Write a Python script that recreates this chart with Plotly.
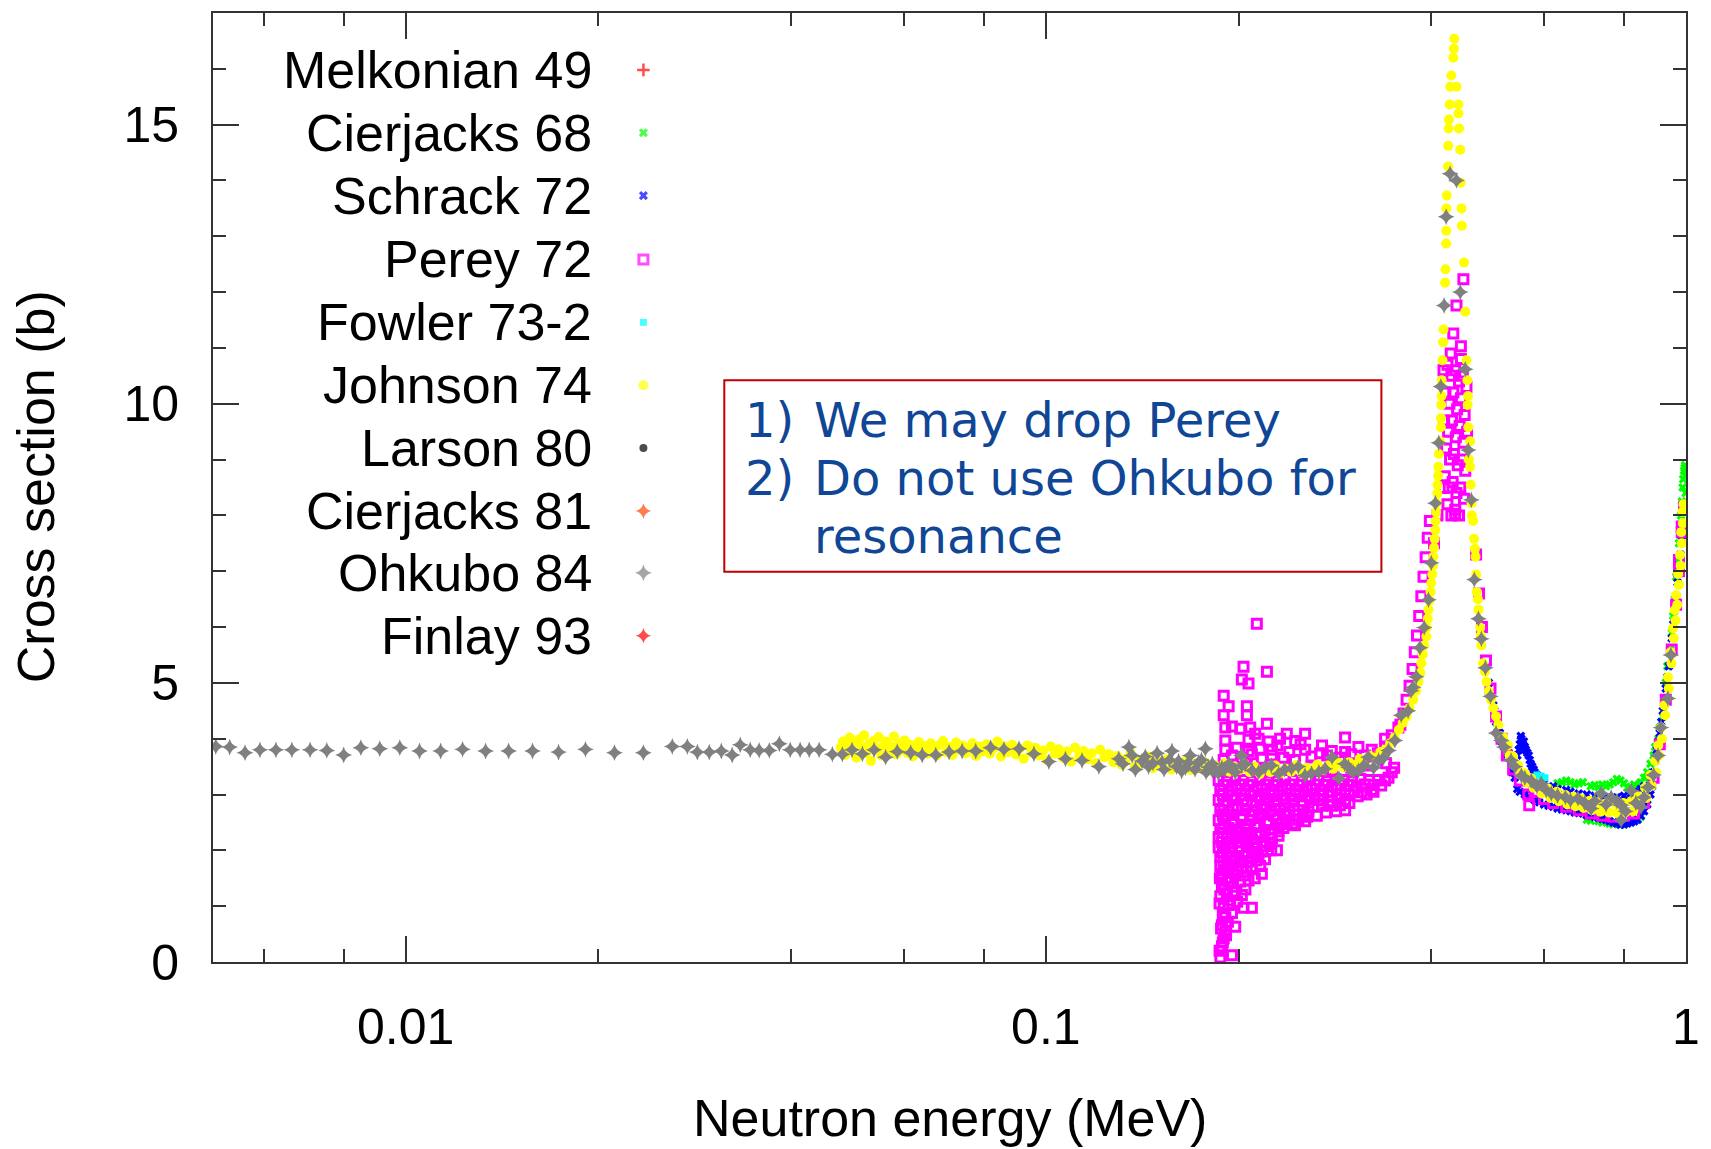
import plotly.graph_objects as go

# ---------------------------------------------------------------------------
# Total cross section data (energy in MeV, cross section in barns)
# ---------------------------------------------------------------------------
melkonian_49 = []
larson_80 = []
cierjacks_81 = []
finlay_93 = []

fowler_73_2 = [(0.585, 3.35), (0.594, 3.33), (0.602, 3.30)]

cierjacks_68 = [
    (0.63, 3.20), (0.65, 3.25), (0.67, 3.18), (0.69, 3.22), (0.71, 3.15), (0.73, 3.13),
    (0.75, 3.15), (0.77, 3.22), (0.79, 3.25), (0.81, 3.12), (0.83, 3.18), (0.85, 3.22),
    (0.87, 3.40), (0.89, 3.70), (0.905, 4.00), (0.92, 4.40), (0.70, 2.55), (0.73, 2.52),
    (0.76, 2.48), (0.79, 2.47), (0.82, 2.50), (0.85, 2.60), (0.93, 5.00), (0.945, 5.60),
    (0.955, 6.20), (0.965, 6.90), (0.975, 7.50), (0.982, 8.00), (0.988, 8.50),
    (0.993, 8.80), (0.997, 8.90), (0.66, 3.22), (0.74, 3.18), (0.80, 3.20), (0.84, 3.15),
    (0.64, 3.22), (0.68, 3.20), (0.72, 3.17), (0.76, 3.18), (0.78, 3.28), (0.82, 3.14),
    (0.86, 3.30), (0.88, 3.55), (0.895, 3.85), (0.91, 4.20), (0.71, 2.53), (0.74, 2.50),
    (0.77, 2.47), (0.80, 2.46), (0.83, 2.52), (0.84, 2.56), (0.935, 5.30), (0.95, 5.90),
    (0.96, 6.50), (0.97, 7.20), (0.978, 7.75), (0.985, 8.25), (0.99, 8.65), (0.995, 8.85),
    (0.999, 8.70), (0.999, 8.40),
]

schrack_72 = [
    (0.500, 4.60), (0.505, 4.30), (0.510, 4.05), (0.515, 3.95), (0.520, 3.85), (0.525, 3.72),
    (0.530, 3.65), (0.545, 3.70), (0.548, 3.80), (0.553, 4.00), (0.556, 3.90), (0.560, 3.85),
    (0.565, 3.75), (0.570, 3.62), (0.575, 3.50), (0.580, 3.40), (0.550, 3.05), (0.570, 2.95),
    (0.600, 2.82), (0.630, 2.75), (0.660, 2.70), (0.690, 2.66), (0.720, 2.60), (0.750, 2.55),
    (0.780, 2.48), (0.800, 2.47), (0.820, 2.50), (0.840, 2.55), (0.860, 2.70), (0.880, 3.00),
    (0.600, 3.20), (0.630, 3.10), (0.660, 3.05), (0.700, 3.00), (0.740, 2.95), (0.780, 2.95),
    (0.820, 3.02), (0.850, 3.10), (0.890, 3.40), (0.900, 3.80), (0.910, 4.10), (0.920, 4.50),
    (0.930, 4.90), (0.940, 5.30), (0.950, 5.80), (0.960, 6.30), (0.970, 6.80), (0.980, 7.30),
    (0.990, 7.80), (0.995, 8.20), (0.535, 3.40), (0.540, 3.30),
    (0.492, 5.00), (0.496, 4.80), (0.502, 4.50), (0.508, 4.20), (0.512, 4.10), (0.518, 3.95),
    (0.522, 3.90), (0.528, 3.75), (0.534, 3.60), (0.540, 3.55), (0.550, 3.90), (0.552, 4.05),
    (0.558, 3.95), (0.562, 3.80), (0.568, 3.70), (0.572, 3.55), (0.578, 3.45), (0.585, 3.35),
    (0.545, 3.10), (0.560, 3.00), (0.580, 2.90), (0.590, 2.86), (0.610, 2.80), (0.620, 2.78),
    (0.640, 2.73), (0.650, 2.72), (0.670, 2.68), (0.680, 2.67), (0.700, 2.63), (0.710, 2.62),
    (0.730, 2.58), (0.740, 2.56), (0.760, 2.52), (0.770, 2.50), (0.790, 2.46), (0.810, 2.48),
    (0.830, 2.52), (0.850, 2.62), (0.870, 2.82), (0.885, 3.15), (0.895, 3.60), (0.905, 3.95),
    (0.915, 4.30), (0.925, 4.70), (0.935, 5.10), (0.945, 5.55), (0.955, 6.05), (0.965, 6.55),
    (0.975, 7.05), (0.985, 7.55), (0.620, 3.15), (0.650, 3.08), (0.680, 3.02), (0.720, 2.98),
    (0.760, 2.93), (0.800, 2.98), (0.830, 3.05), (0.860, 3.15),
]

perey_72 = [
    # low-energy tail of the scattered region
    (0.1873, 0.08), (0.1953, 0.12), (0.1884, 0.28), (0.1896, 0.42), (0.1907, 0.55),
    (0.1884, 0.66), (0.1976, 0.63), (0.1907, 0.80), (0.1953, 0.88), (0.1896, 0.97),
    (0.1930, 1.02), (0.2036, 0.97), (0.2098, 0.97), (0.1873, 1.18), (0.1918, 1.23),
    (0.1976, 1.25), (0.2024, 1.20), (0.1930, 1.44), (0.2012, 1.44), (0.2073, 1.46),
    (0.1884, 1.38), (0.1868, 0.20), (0.1890, 0.35), (0.1912, 0.48), (0.1878, 0.60),
    (0.1925, 0.72), (0.1890, 0.85), (0.1940, 1.10), (0.1868, 1.05), (0.1990, 1.08),
    (0.1900, 1.30), (0.1960, 1.35), (0.2050, 1.30), (0.1870, 1.50), (0.1945, 1.50),
    (0.2040, 1.55), (0.2120, 1.50),
    (0.1884, 1.58), (0.1930, 1.60), (0.1976, 1.56), (0.2175, 1.58), (0.1873, 1.72),
    (0.1918, 1.70), (0.1965, 1.74), (0.2024, 1.68), (0.2098, 1.70), (0.2162, 1.72),
    (0.1873, 1.88), (0.1918, 1.90), (0.1976, 1.86), (0.2036, 1.90), (0.2098, 1.88),
    (0.2149, 1.92), (0.1862, 2.05), (0.1907, 2.08), (0.1953, 2.04), (0.2012, 2.06),
    (0.2073, 2.10), (0.2136, 2.04), (0.2202, 2.08), (0.2296, 2.00), (0.1862, 2.24),
    (0.1918, 2.22), (0.1976, 2.26), (0.2036, 2.24), (0.2098, 2.20), (0.2162, 2.26),
    (0.2255, 2.22), (0.2309, 2.26), (0.1873, 2.38), (0.1930, 2.40), (0.1988, 2.36),
    (0.2061, 2.38), (0.2123, 2.42), (0.2202, 2.36), (0.2309, 2.34),
    (0.1900, 1.64), (0.1990, 1.64), (0.2060, 1.62), (0.1895, 1.80), (0.1950, 1.81),
    (0.2010, 1.79), (0.2070, 1.80), (0.2130, 1.82), (0.2200, 1.84), (0.1890, 1.97),
    (0.1940, 1.96), (0.2000, 1.98), (0.2060, 1.97), (0.2120, 1.95), (0.2180, 1.98),
    (0.2250, 2.00), (0.1885, 2.15), (0.1935, 2.14), (0.1995, 2.16), (0.2055, 2.15),
    (0.2115, 2.13), (0.2180, 2.16), (0.2240, 2.12), (0.1890, 2.31), (0.1950, 2.30),
    (0.2010, 2.32), (0.2090, 2.31), (0.2160, 2.30), (0.2250, 2.30), (0.2350, 2.40),
    (0.2450, 2.45), (0.1895, 2.46), (0.1955, 2.47), (0.2050, 2.45), (0.2140, 2.46),
    (0.2230, 2.48), (0.2330, 2.47), (0.2430, 2.48), (0.2560, 2.60), (0.2650, 2.62),
    (0.2740, 2.68), (0.2840, 2.70),
    (0.1862, 2.54), (0.1907, 2.58), (0.1965, 2.52), (0.2024, 2.56), (0.2086, 2.54),
    (0.2149, 2.58), (0.2215, 2.52), (0.2296, 2.56), (0.2379, 2.52), (0.2481, 2.55),
    (0.2541, 2.52), (0.1873, 2.72), (0.1930, 2.70), (0.1988, 2.74), (0.2049, 2.72),
    (0.2111, 2.70), (0.2175, 2.74), (0.2242, 2.70), (0.2322, 2.74), (0.2400, 2.70),
    (0.2481, 2.72), (0.2572, 2.70), (0.2934, 2.72), (0.1862, 2.90), (0.1918, 2.88),
    (0.1976, 2.92), (0.2036, 2.90), (0.2098, 2.88), (0.2162, 2.92), (0.2228, 2.90),
    (0.2296, 2.88), (0.2365, 2.92), (0.2437, 2.90), (0.2511, 2.88), (0.2587, 2.92),
    (0.2667, 2.90), (0.2765, 2.88), (0.2860, 2.92), (0.2934, 2.90), (0.1873, 3.08),
    (0.1930, 3.06), (0.1988, 3.10), (0.2049, 3.08), (0.2111, 3.06), (0.2175, 3.10),
    (0.2242, 3.08), (0.2309, 3.06), (0.2379, 3.10), (0.2452, 3.08), (0.2526, 3.06),
    (0.2603, 3.10), (0.2682, 3.08), (0.2764, 3.06), (0.2848, 3.10), (0.2934, 3.08),
    (0.3030, 3.06), (0.3110, 3.04), (0.3229, 3.08), (0.1862, 3.26), (0.1918, 3.24),
    (0.1976, 3.28), (0.2036, 3.26), (0.2098, 3.24), (0.2162, 3.28), (0.2228, 3.26),
    (0.2296, 3.24), (0.2365, 3.28), (0.2437, 3.26), (0.2511, 3.24), (0.2587, 3.28),
    (0.2667, 3.26), (0.2750, 3.24), (0.2834, 3.28), (0.2920, 3.26), (0.3010, 3.24),
    (0.3100, 3.28), (0.3200, 3.26), (0.3300, 3.26), (0.3388, 3.25), (0.3470, 3.40),
    (0.1890, 2.63), (0.1950, 2.64), (0.2020, 2.62), (0.2100, 2.63), (0.2190, 2.65),
    (0.2270, 2.62), (0.2360, 2.63), (0.2450, 2.64), (0.2520, 2.64), (0.1895, 2.81),
    (0.1960, 2.80), (0.2060, 2.82), (0.2130, 2.81), (0.2210, 2.79), (0.2280, 2.81),
    (0.2360, 2.82), (0.2440, 2.80), (0.2520, 2.81), (0.2620, 2.79), (0.2700, 2.80),
    (0.2800, 2.80), (0.2880, 2.81), (0.2980, 2.85), (0.1890, 2.99), (0.1955, 2.98),
    (0.2020, 3.00), (0.2080, 2.99), (0.2150, 2.97), (0.2200, 3.01), (0.2270, 2.99),
    (0.2340, 2.98), (0.2410, 3.00), (0.2490, 2.99), (0.2560, 2.97), (0.2630, 3.00),
    (0.2710, 2.99), (0.2800, 2.98), (0.2890, 3.00), (0.2980, 2.99), (0.3070, 2.97),
    (0.3170, 3.00), (0.3250, 3.05), (0.1895, 3.17), (0.1955, 3.16), (0.2015, 3.18),
    (0.2075, 3.17), (0.2140, 3.15), (0.2210, 3.18), (0.2270, 3.17), (0.2340, 3.16),
    (0.2410, 3.18), (0.2490, 3.17), (0.2560, 3.15), (0.2640, 3.18), (0.2720, 3.17),
    (0.2800, 3.16), (0.2890, 3.18), (0.2970, 3.17), (0.3060, 3.15), (0.3150, 3.18),
    (0.3250, 3.17), (0.3340, 3.16), (0.3430, 3.30), (0.3500, 3.48),
    (0.1873, 3.42), (0.1930, 3.50), (0.1988, 3.44), (0.2061, 3.52), (0.2136, 3.46),
    (0.2215, 3.40), (0.2400, 3.45), (0.2600, 3.50), (0.2800, 3.42), (0.3000, 3.48),
    (0.3200, 3.52), (0.3400, 3.56),
    (0.1896, 3.62), (0.1953, 3.70), (0.2024, 3.66), (0.2098, 3.72), (0.2175, 3.64),
    (0.2255, 3.70), (0.2350, 3.66), (0.2450, 3.62), (0.1907, 3.80), (0.1988, 3.84),
    (0.2073, 3.78), (0.2162, 3.82), (0.2255, 3.80), (0.2400, 3.76), (0.2541, 3.80),
    (0.2682, 3.74), (0.2797, 3.78), (0.2934, 3.76), (0.3078, 3.85), (0.3229, 3.80),
    (0.3388, 3.86), (0.1907, 3.97), (0.2073, 3.98), (0.2149, 4.00), (0.2228, 3.95),
    (0.2322, 4.00), (0.2452, 3.96), (0.2541, 4.09), (0.2934, 4.02), (0.3388, 4.00),
    (0.3470, 4.06), (0.3554, 4.20), (0.2123, 4.09), (0.2379, 4.09), (0.1907, 4.20),
    (0.1953, 4.22), (0.2012, 4.18), (0.2086, 4.20), (0.2215, 4.27), (0.1896, 4.42),
    (0.2061, 4.42), (0.1930, 4.58), (0.2061, 4.58), (0.1896, 4.77), (0.2073, 4.99),
    (0.2024, 5.06), (0.2215, 5.20), (0.2036, 5.29), (0.2136, 6.06),
    (0.2600, 3.68), (0.2750, 3.70), (0.2880, 3.66), (0.3000, 3.72), (0.3150, 3.70),
    (0.3300, 3.74), (0.2300, 3.88), (0.2500, 3.90), (0.2700, 3.88),
    # resonance
    (0.358, 4.25), (0.362, 4.45), (0.366, 4.70), (0.370, 4.95), (0.374, 5.25),
    (0.377, 5.55), (0.380, 5.85), (0.383, 6.20), (0.386, 6.55), (0.389, 6.90),
    (0.392, 7.25), (0.395, 7.60), (0.398, 7.90), (0.418, 10.6), (0.424, 10.7),
    (0.430, 10.5), (0.436, 10.6), (0.442, 10.4), (0.448, 10.5), (0.454, 10.3),
    (0.421, 10.2), (0.427, 10.0), (0.433, 10.2), (0.439, 9.9), (0.445, 10.1),
    (0.451, 9.8), (0.419, 9.7), (0.425, 9.5), (0.431, 9.7), (0.437, 9.4),
    (0.443, 9.6), (0.449, 9.3), (0.455, 9.5), (0.422, 9.2), (0.428, 9.0),
    (0.434, 9.1), (0.440, 8.9), (0.446, 9.0), (0.452, 8.8), (0.420, 8.7),
    (0.426, 8.5), (0.432, 8.6), (0.438, 8.4), (0.444, 8.5), (0.450, 8.3),
    (0.424, 8.2), (0.430, 8.0), (0.436, 8.1), (0.442, 8.0), (0.429, 10.9),
    (0.445, 10.8), (0.449, 12.23), (0.438, 11.76), (0.433, 11.26), (0.445, 11.03),
    (0.436, 8.03), (0.418, 8.49), (0.404, 7.5), (0.409, 8.0),
    # above the resonance
    (0.470, 7.30), (0.475, 6.60), (0.480, 6.00), (0.487, 5.40), (0.495, 4.90),
    (0.505, 4.40), (0.515, 4.00), (0.525, 3.70), (0.537, 3.45), (0.550, 3.25),
    (0.569, 2.81), (0.567, 3.00), (0.580, 3.05), (0.600, 2.92), (0.620, 2.85),
    (0.650, 2.78), (0.680, 2.72), (0.710, 2.66), (0.740, 2.62), (0.770, 2.60),
    (0.800, 2.62), (0.830, 2.66), (0.860, 2.85), (0.890, 3.30), (0.910, 3.90),
    (0.930, 4.70), (0.950, 5.60), (0.965, 6.40), (0.975, 7.00), (0.975, 7.20),
    (0.985, 7.70), (0.985, 7.80), (0.993, 8.15),
]

johnson_74 = [
    (0.0478, 3.84), (0.0482, 3.95), (0.0486, 3.71), (0.0490, 3.88), (0.0494, 4.02),
    (0.0498, 3.78), (0.0502, 3.93), (0.0506, 3.66), (0.0511, 3.99), (0.0515, 3.85),
    (0.0520, 4.06), (0.0524, 3.74), (0.0529, 3.90), (0.0533, 3.60), (0.0538, 3.96),
    (0.0543, 3.82), (0.0548, 4.03), (0.0553, 3.70), (0.0558, 3.88), (0.0563, 3.95),
    (0.0568, 3.77), (0.0573, 3.86), (0.0579, 4.04), (0.0584, 3.72), (0.0590, 3.91),
    (0.0596, 3.80), (0.0602, 3.97), (0.0608, 3.75), (0.0614, 3.89), (0.0620, 3.68),
    (0.0627, 3.84), (0.0633, 3.94), (0.0640, 3.78), (0.0647, 3.87), (0.0654, 3.73),
    (0.0661, 3.92), (0.0668, 3.81), (0.0676, 3.70), (0.0683, 3.89), (0.0691, 3.96),
    (0.0699, 3.76), (0.0707, 3.85), (0.0715, 3.71), (0.0724, 3.93), (0.0732, 3.80),
    (0.0741, 3.88), (0.0750, 3.74), (0.0759, 3.84), (0.0768, 3.92), (0.0778, 3.69),
    (0.0788, 3.86), (0.0798, 3.77), (0.0808, 3.90), (0.0818, 3.73), (0.0829, 3.83),
    (0.0840, 3.95), (0.0851, 3.68), (0.0862, 3.86), (0.0874, 3.76), (0.0886, 3.89),
    (0.0898, 3.72), (0.0910, 3.82), (0.0923, 3.64), (0.0936, 3.88), (0.0949, 3.75),
    (0.0962, 3.84), (0.0976, 3.70), (0.0990, 3.79), (0.1004, 3.62), (0.1018, 3.86),
    (0.1033, 3.73), (0.1048, 3.81), (0.1063, 3.66), (0.1079, 3.77), (0.1095, 3.59),
    (0.1111, 3.84), (0.1128, 3.70), (0.1145, 3.78), (0.1162, 3.63), (0.1180, 3.74),
    (0.1198, 3.56), (0.1216, 3.80), (0.1235, 3.67), (0.1254, 3.72), (0.1274, 3.58),
    (0.1294, 3.69), (0.1314, 3.53), (0.1335, 3.64), (0.1356, 3.75), (0.1378, 3.50),
    (0.1400, 3.62), (0.1423, 3.55), (0.1446, 3.68), (0.1470, 3.47), (0.1494, 3.60),
    (0.1519, 3.52), (0.1545, 3.63), (0.1571, 3.45), (0.1598, 3.57), (0.1625, 3.49),
    (0.1653, 3.60), (0.1682, 3.44), (0.1711, 3.55), (0.1741, 3.47), (0.1772, 3.58),
    (0.1803, 3.42), (0.1835, 3.53), (0.1868, 3.45), (0.1902, 3.56), (0.1936, 3.41),
    (0.1971, 3.50), (0.2007, 3.44), (0.2044, 3.55),
    (0.2082, 3.40), (0.2120, 3.50), (0.2160, 3.37), (0.2200, 3.47), (0.2241, 3.40),
    (0.2283, 3.52), (0.2326, 3.38), (0.2370, 3.46), (0.2415, 3.41), (0.2461, 3.53),
    (0.2508, 3.39), (0.2556, 3.48), (0.2605, 3.42), (0.2655, 3.54), (0.2706, 3.44),
    (0.2758, 3.52), (0.2811, 3.46), (0.2865, 3.57), (0.2920, 3.49), (0.2976, 3.58),
    (0.3033, 3.53), (0.3091, 3.64), (0.3150, 3.58), (0.3210, 3.69), (0.3270, 3.66),
    (0.3330, 3.76), (0.3390, 3.80), (0.3450, 3.92), (0.3505, 4.02), (0.3560, 4.16),
    # rising edge of the resonance
    (0.3610, 4.28), (0.3660, 4.40), (0.3700, 4.55), (0.3750, 4.70), (0.3790, 4.86),
    (0.3820, 5.02), (0.3845, 5.18), (0.3860, 5.35), (0.3880, 5.51), (0.3900, 5.67),
    (0.3930, 5.83), (0.3935, 5.99), (0.3950, 6.15), (0.3960, 6.31), (0.3975, 6.47),
    (0.3990, 6.63), (0.4000, 6.79), (0.4015, 6.94), (0.4025, 7.10), (0.4030, 7.26),
    (0.4040, 7.42), (0.4050, 7.58), (0.4058, 7.74), (0.4062, 7.90), (0.4070, 8.06),
    (0.4080, 8.22), (0.4088, 8.39), (0.4092, 8.55), (0.4100, 8.71), (0.4105, 8.87),
    (0.4110, 9.10), (0.4130, 9.33), (0.4140, 9.58), (0.4142, 9.74), (0.4145, 9.98),
    (0.4150, 10.14), (0.4152, 10.42), (0.4165, 10.78), (0.4175, 11.10), (0.4180, 11.33),
    (0.4205, 12.17), (0.4210, 12.41), (0.4220, 12.87), (0.4222, 13.10), (0.4225, 13.50),
    (0.4230, 13.73), (0.4250, 14.25), (0.4252, 14.62), (0.4258, 14.93), (0.4262, 15.09),
    (0.4275, 15.36), (0.4282, 15.68), (0.4300, 15.88), (0.4330, 16.20), (0.4340, 16.36),
    (0.4346, 16.54),
    # falling edge of the resonance
    (0.4380, 15.68), (0.4410, 15.36), (0.4410, 15.20), (0.4420, 14.93), (0.4440, 14.55),
    (0.4445, 13.96), (0.4460, 13.50), (0.4465, 13.19), (0.4500, 12.53), (0.4520, 11.65),
    (0.4540, 10.78), (0.4555, 10.42), (0.4565, 10.14), (0.4560, 9.98), (0.4570, 9.58),
    (0.4600, 9.33), (0.4600, 8.87), (0.4610, 8.55), (0.4625, 8.22), (0.4650, 7.90),
    (0.4665, 7.58), (0.4690, 7.26), (0.4700, 6.94), (0.4710, 6.63), (0.4740, 6.31),
    (0.4770, 5.99), (0.4790, 5.67), (0.4820, 5.35), (0.4880, 5.02), (0.4960, 4.70),
    (0.5050, 4.40), (0.4580, 9.00), (0.4630, 8.00), (0.4680, 7.40), (0.4730, 6.50),
    (0.4780, 5.85), (0.4850, 5.20), (0.4920, 4.85), (0.5000, 4.55),
    # valley and the next resonance
    (0.509, 4.25), (0.512, 4.05), (0.518, 4.03), (0.521, 3.87), (0.527, 3.88),
    (0.530, 3.70), (0.537, 3.68), (0.540, 3.52), (0.547, 3.52), (0.551, 3.36),
    (0.560, 3.38), (0.564, 3.22), (0.573, 3.29), (0.578, 3.12), (0.590, 3.19),
    (0.595, 3.02), (0.609, 3.11), (0.614, 2.94), (0.628, 3.05), (0.633, 2.88),
    (0.648, 2.99), (0.653, 2.82), (0.667, 2.96), (0.672, 2.79), (0.686, 2.93),
    (0.692, 2.76), (0.707, 2.89), (0.713, 2.72), (0.729, 2.86), (0.735, 2.69),
    (0.752, 2.85), (0.758, 2.68), (0.775, 2.84), (0.781, 2.67), (0.798, 2.85),
    (0.804, 2.68), (0.821, 2.88), (0.827, 2.70), (0.842, 2.97), (0.847, 2.80),
    (0.863, 3.12), (0.867, 2.94), (0.880, 3.35), (0.884, 3.16), (0.895, 3.60),
    (0.898, 3.40), (0.905, 3.88), (0.908, 3.70), (0.914, 4.20), (0.917, 4.00),
    (0.925, 4.60), (0.928, 4.42), (0.937, 5.10), (0.940, 4.90), (0.946, 5.55),
    (0.949, 5.35), (0.954, 5.98), (0.957, 5.80), (0.960, 6.30), (0.963, 6.12),
    (0.965, 6.57), (0.969, 6.40), (0.972, 6.95), (0.975, 6.76), (0.979, 7.29),
    (0.981, 7.10), (0.983, 7.70), (0.985, 7.50), (0.987, 8.06), (0.989, 7.86),
    (0.991, 8.20), (0.995, 8.10),
]

ohkubo_84 = [
    (0.00505, 3.86), (0.00531, 3.85), (0.00561, 3.75), (0.00592, 3.80), (0.00627, 3.80),
    (0.00664, 3.80), (0.00709, 3.80), (0.00753, 3.79), (0.00800, 3.71), (0.00851, 3.84),
    (0.00911, 3.82), (0.00979, 3.84), (0.01051, 3.78), (0.01134, 3.78), (0.01227, 3.81),
    (0.01333, 3.78), (0.01448, 3.78), (0.01578, 3.78), (0.01733, 3.76), (0.01909, 3.81),
    (0.02119, 3.75), (0.02351, 3.75), (0.02609, 3.86), (0.02754, 3.86), (0.02855, 3.76),
    (0.02980, 3.76), (0.03112, 3.78), (0.03236, 3.71), (0.03331, 3.89), (0.03453, 3.80),
    (0.03566, 3.79), (0.03698, 3.79), (0.03834, 3.91), (0.03987, 3.80), (0.04132, 3.80),
    (0.04269, 3.80), (0.04424, 3.80),
    (0.0464, 3.72), (0.0481, 3.72), (0.0498, 3.80), (0.0517, 3.73), (0.0539, 3.80),
    (0.0562, 3.67), (0.0586, 3.77), (0.0615, 3.75), (0.0641, 3.71), (0.0673, 3.71),
    (0.0706, 3.76), (0.0740, 3.78), (0.0777, 3.78), (0.0820, 3.84), (0.0860, 3.81),
    (0.0908, 3.82), (0.0958, 3.73), (0.1011, 3.59), (0.1073, 3.64), (0.1139, 3.61),
    (0.1210, 3.50), (0.1300, 3.64), (0.1348, 3.85), (0.1364, 3.70), (0.1413, 3.60),
    (0.1447, 3.50), (0.1492, 3.74), (0.1519, 3.58), (0.1574, 3.78), (0.1612, 3.60),
    (0.1652, 3.48), (0.1681, 3.70), (0.1733, 3.58), (0.1775, 3.82), (0.1796, 3.49),
    (0.1839, 3.44), (0.1884, 3.48), (0.1930, 3.55), (0.1976, 3.40), (0.2024, 3.52),
    (0.132, 3.55), (0.138, 3.45), (0.143, 3.68), (0.147, 3.56), (0.153, 3.45),
    (0.156, 3.62), (0.160, 3.50), (0.163, 3.42), (0.167, 3.57), (0.171, 3.45),
    (0.175, 3.62), (0.178, 3.40), (0.182, 3.55), (0.186, 3.38), (0.190, 3.45),
    (0.195, 3.50), (0.182, 3.43), (0.195, 3.47), (0.202, 3.70), (0.210, 3.43),
    (0.220, 3.49), (0.231, 3.37), (0.242, 3.47), (0.254, 3.34), (0.267, 3.40),
    (0.280, 3.67), (0.287, 3.29), (0.297, 3.49), (0.308, 3.43), (0.319, 3.67),
    (0.331, 3.61), (0.343, 3.79), (0.351, 3.97), (0.205, 3.55), (0.215, 3.40),
    (0.225, 3.52), (0.236, 3.45), (0.248, 3.50), (0.260, 3.38), (0.273, 3.46),
    (0.293, 3.55), (0.302, 3.40), (0.314, 3.52), (0.325, 3.48), (0.337, 3.66),
    (0.359, 4.42), (0.368, 4.50), (0.372, 4.86), (0.375, 4.92), (0.379, 5.11),
    (0.384, 5.63), (0.390, 5.99), (0.396, 6.49), (0.400, 7.15), (0.406, 8.22),
    (0.411, 9.30), (0.414, 10.31), (0.419, 11.76), (0.422, 13.35), (0.428, 14.12),
    (0.438, 14.00), (0.444, 12.00), (0.452, 10.62), (0.457, 9.17), (0.462, 8.28),
    (0.467, 6.85), (0.474, 6.15), (0.479, 5.79), (0.486, 5.27), (0.495, 4.76),
    (0.5145, 3.97), (0.533, 3.61), (0.553, 3.34), (0.573, 3.25), (0.594, 3.20),
    (0.616, 3.02), (0.648, 2.95), (0.678, 2.93), (0.711, 2.75), (0.737, 3.02),
    (0.764, 2.95), (0.792, 2.81), (0.792, 2.54), (0.821, 3.07), (0.851, 2.78),
    (0.873, 3.13), (0.904, 3.70), (0.914, 4.20), (0.937, 4.72), (0.947, 5.50),
    (0.505, 4.10), (0.520, 3.85), (0.540, 3.50), (0.560, 3.30), (0.585, 3.15),
    (0.605, 3.08), (0.630, 2.98), (0.660, 2.90), (0.695, 2.85), (0.720, 2.88),
    (0.750, 2.82), (0.780, 2.88), (0.805, 2.70), (0.835, 2.85), (0.860, 2.95),
    (0.890, 3.35),
]

# Legend order, colours and point styles
series_names = ["Melkonian 49", "Cierjacks 68", "Schrack 72", "Perey 72", "Fowler 73-2",
                "Johnson 74", "Larson 80", "Cierjacks 81", "Ohkubo 84", "Finlay 93"]
series_data = [melkonian_49, cierjacks_68, schrack_72, perey_72, fowler_73_2,
               johnson_74, larson_80, cierjacks_81, ohkubo_84, finlay_93]
series_colors = ["#ff0000", "#00ff00", "#0000ff", "#ff00ff", "#00ffff",
                 "#ffff00", "#000000", "#ff4500", "#808080", "#ff0000"]
series_symbols = ["cross-thin-open", "x", "x", "square-open", "square",
                  "circle", "circle", "star-diamond", "star-diamond", "star-diamond"]
series_sizes = [9, 8, 8, 9, 7, 10, 8, 11, 12, 11]
series_line = [2.5, 0, 0, 3, 0, 0, 0, 0, 0, 0]

x_tick_vals = [0.01, 0.1, 1]
x_tick_text = ["0.01", "0.1", "1"]
x_minor_vals = [0.006, 0.008, 0.02, 0.04, 0.06, 0.08, 0.2, 0.4, 0.6, 0.8]
y_tick_vals = [0, 5, 10, 15]

note_lines = [("1)", "We may drop Perey"), ("2)", "Do not use Ohkubo for"), ("", "resonance")]

# ---------------------------------------------------------------------------
W, H = 1711, 1149
L, R, T, B = 213, 23, 11, 187
PW, PH = W - L - R, H - T - B


def px(xpix):
    return (xpix - L) / PW


def py(ypix):
    return (H - B - ypix) / PH


fig = go.Figure()

for name, data, col, sym, size, lw in zip(series_names, series_data, series_colors,
                                          series_symbols, series_sizes, series_line):
    if not data:
        continue
    fig.add_trace(go.Scatter(
        x=[d[0] for d in data], y=[d[1] for d in data], mode="markers", name=name,
        marker=dict(symbol=sym, size=size, color=col,
                    line=dict(width=lw, color=col)),
        hoverinfo="skip", showlegend=False,
    ))

# key: label text on the left, point sample on the right
key_rows = [68, 131, 194, 258, 321, 384, 447, 510, 572, 635]
fig.add_trace(go.Scatter(
    x=[px(644)] * len(series_names), y=[py(r) for r in key_rows],
    xaxis="x2", yaxis="y2", mode="markers", hoverinfo="skip", showlegend=False,
    marker=dict(symbol=series_symbols, size=series_sizes, color=series_colors,
                line=dict(width=series_line, color=series_colors)),
))

annotations = []
for name, r in zip(series_names, key_rows):
    annotations.append(dict(
        text=name, x=px(595), y=py(r), xref="paper", yref="paper",
        xanchor="right", yanchor="middle", showarrow=False,
        font=dict(family="Liberation Sans, Arial, sans-serif", size=52, color="#000000"),
    ))

note_font = dict(family="DejaVu Sans, Verdana, sans-serif", size=48, color="#0f4696")
for (num, txt), r in zip(note_lines, [419, 477, 535]):
    if num:
        annotations.append(dict(text=num, x=px(744), y=py(r), xref="paper", yref="paper",
                                xanchor="left", yanchor="middle", showarrow=False,
                                font=note_font))
    annotations.append(dict(text=txt, x=px(813), y=py(r), xref="paper", yref="paper",
                            xanchor="left", yanchor="middle", showarrow=False,
                            font=note_font))

axis_font = dict(family="Liberation Sans, Arial, sans-serif", size=52, color="#000000")
annotations.append(dict(text="Neutron energy (MeV)", x=0.5, y=py(1118), xref="paper",
                        yref="paper", xanchor="center", yanchor="middle",
                        showarrow=False, font=axis_font))
annotations.append(dict(text="Cross section (b)", x=px(36), y=py(486), xref="paper",
                        yref="paper", xanchor="center", yanchor="middle",
                        showarrow=False, textangle=-90, font=axis_font))

tick_font = dict(family="Liberation Sans, Arial, sans-serif", size=50, color="#000000")

fig.update_layout(
    width=W, height=H,
    margin=dict(l=L, r=R, t=T, b=B, pad=0),
    paper_bgcolor="#ffffff", plot_bgcolor="#ffffff",
    showlegend=False,
    annotations=annotations,
    shapes=[dict(type="rect", xref="paper", yref="paper",
                 x0=px(725), x1=px(1383), y0=py(571), y1=py(379),
                 line=dict(color="#c00000", width=2), fillcolor="rgba(0,0,0,0)")],
    xaxis=dict(
        type="log", range=[-2.30103, 0], showgrid=False, zeroline=False,
        showline=True, linecolor="#333333", linewidth=2, mirror="allticks",
        ticks="inside", ticklen=26, tickwidth=2, tickcolor="#333333",
        tickvals=x_tick_vals, ticktext=x_tick_text, tickfont=tick_font,
        ticklabelstandoff=20,
        minor=dict(tickvals=x_minor_vals, ticks="inside", ticklen=13, tickwidth=2,
                   tickcolor="#333333", showgrid=False),
    ),
    yaxis=dict(
        range=[0, 17], showgrid=False, zeroline=False,
        showline=True, linecolor="#333333", linewidth=2, mirror="allticks",
        ticks="inside", ticklen=26, tickwidth=2, tickcolor="#333333",
        tickvals=y_tick_vals, tickfont=tick_font, ticklabelstandoff=22,
        minor=dict(dtick=1, ticks="inside", ticklen=13, tickwidth=2,
                   tickcolor="#333333", showgrid=False),
    ),
    xaxis2=dict(overlaying="x", anchor="y2", range=[0, 1], visible=False, fixedrange=True),
    yaxis2=dict(overlaying="y", anchor="x2", range=[0, 1], visible=False, fixedrange=True),
)

fig.write_html("out.html", config={"displayModeBar": False})
